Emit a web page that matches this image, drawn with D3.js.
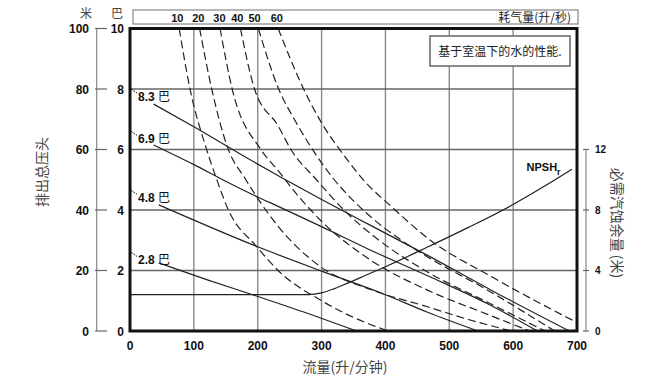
<!DOCTYPE html>
<html><head><meta charset="utf-8">
<script src="https://cdn.jsdelivr.net/npm/d3@7"></script>
<style>body{margin:0;background:#fff}svg{display:block}</style>
</head><body>
<svg id="c" width="667" height="389"></svg>
<script>
// ---- data ----
const flowTicks = [0,100,200,300,400,500,600,700];
const barTicks = [0,2,4,6,8,10];
const meterTicks = [0,20,40,60,80,100];
const npshTicks = [0,4,8,12];
const airLabels = ["10","20","30","40","50","60"];
const airLabelFlow = [74,107,140,168,195,230];
const air10 = [[77,10],[94,8],[120,6],[136,5],[153,4.05],[198,2.8],[232,2.0],[300,1.0],[350,0.45],[404,0]];
const air20 = [[109,10],[128,8],[154,6],[180,5.05],[232,3.46],[298,2.13],[380,1.35],[466,0.8],[530,0.38],[597,0]];
const air30 = [[141,10],[160,8],[205,6],[232,5.3],[260,4.55],[298,3.67],[380,2.3],[466,1.35],[560,0.55],[626,0]];
const air40 = [[173,10],[195,8],[232,6.78],[252,6],[292,5.0],[335,4.0],[390,3.0],[466,1.95],[560,0.95],[650,0]];
const air50 = [[201,10],[232,8.04],[260,6.9],[300,5.56],[320,5.0],[365,4.0],[425,3.0],[466,2.45],[560,1.35],[665,0]];
const air60 = [[232,10],[271,8.04],[300,6.88],[336,5.78],[367,4.96],[410,4.1],[466,3.07],[570,1.75],[700,0.28]];
const pressLabels = ["8.3","6.9","4.8","2.8"];
const pressLabelBar = [8.0,6.6,4.65,2.6];
const p83 = [[37,7.5],[100,6.75],[193,5.6],[235,5.1],[300,4.35],[376,3.5],[466,2.5],[570,1.3],[688,0]];
const p69 = [[37,6.15],[100,5.5],[149,4.96],[199,4.44],[232,4.12],[300,3.45],[376,2.68],[469,1.8],[560,0.9],[638,0]];
const p48 = [[45,4.17],[198,2.8],[300,1.98],[400,1.2],[466,0.62],[545,0]];
const p28 = [[45,2.25],[120,1.7],[199,1.15],[280,0.57],[355,0]];
const npsh = [[0,2.4],[280,2.4],[300,2.52],[320,2.8],[340,3.15],[370,3.7],[400,4.25],[466,5.55],[530,6.85],[595,8.25],[650,9.6],[692,10.7]];

const airCurves = [air10,air20,air30,air40,air50,air60];
const pressCurves = [p83,p69,p48,p28];

// ---- layout ----
const svg = d3.select("#c");
const L=130, R=577, T=28.5, B=331;
const x = d3.scaleLinear().domain([0,700]).range([L,R]);
const y = d3.scaleLinear().domain([0,10]).range([B,T]);
const yM = d3.scaleLinear().domain([0,100]).range([B,T]);
const yN = d3.scaleLinear().domain([0,12]).range([B,y(6)]);
const latin = '"Liberation Sans", Arial, "Noto Sans CJK SC", sans-serif';
const cjk = '"Noto Sans CJK SC", "Liberation Sans", sans-serif';

// grid
const g = svg.append("g");
g.selectAll(".vg").data(flowTicks.filter(d=>d>0&&d<700)).enter().append("line")
  .attr("x1",d=>x(d)).attr("x2",d=>x(d)).attr("y1",T).attr("y2",B)
  .attr("stroke","#8a8a8a").attr("stroke-width",1.4);
g.selectAll(".hg").data(barTicks.filter(d=>d>0&&d<10)).enter().append("line")
  .attr("x1",L).attr("x2",R).attr("y1",d=>y(d)).attr("y2",d=>y(d))
  .attr("stroke","#666").attr("stroke-width",1.3);

const line = d3.line().x(d=>x(d[0])).y(d=>y(d[1])).curve(d3.curveMonotoneX);
svg.append("clipPath").attr("id","pc").append("rect")
  .attr("x",L).attr("y",T).attr("width",R-L).attr("height",B-T);
const cg = svg.append("g").attr("clip-path","url(#pc)");
cg.selectAll(".air").data(airCurves).enter().append("path")
  .attr("d",line).attr("fill","none").attr("stroke","#222").attr("stroke-width",1.2)
  .attr("stroke-dasharray","8,4");
cg.selectAll(".pr").data(pressCurves).enter().append("path")
  .attr("d",line).attr("fill","none").attr("stroke","#222").attr("stroke-width",1.2);
const nline = d3.line().x(d=>x(d[0])).y(d=>yN(d[1])).curve(d3.curveMonotoneX);
cg.append("path").datum(npsh).attr("d",nline).attr("fill","none")
  .attr("stroke","#222").attr("stroke-width",1.2);

// pressure labels + leaders
pressLabels.forEach((t,i)=>{
  const yy = y(pressLabelBar[i]);
  svg.append("line").attr("x1",L+1).attr("y1",yy).attr("x2",L+7).attr("y2",yy+4)
    .attr("stroke","#222").attr("stroke-width",1).attr("stroke-dasharray","2,1");
  const tx = svg.append("text").attr("x",L+8).attr("y",yy+12)
    .attr("font-size",12).attr("fill","#111");
  tx.append("tspan").attr("font-family",latin).attr("font-weight","bold").text(t+" ");
  tx.append("tspan").attr("font-family",cjk).text("巴");
});

// NPSH label
const nt = svg.append("text").attr("x",x(621)).attr("y",yN(10.55)).attr("font-family",latin)
  .attr("font-weight","bold").attr("font-size",11).attr("fill","#111");
nt.append("tspan").text("NPSH");
nt.append("tspan").attr("font-size",9).attr("dy",4).text("r");

// frame
svg.append("rect").attr("x",L).attr("y",T).attr("width",R-L).attr("height",B-T)
  .attr("fill","none").attr("stroke","#111").attr("stroke-width",3);

// legend note
svg.append("rect").attr("x",430).attr("y",36).attr("width",140).attr("height",30)
  .attr("fill","#fff").attr("stroke","#666").attr("stroke-width",1.5);
svg.append("text").attr("x",500).attr("y",56).attr("text-anchor","middle")
  .attr("font-family",cjk).attr("font-size",12).attr("fill","#222").text("基于室温下的水的性能.");

// top air-consumption box
svg.append("rect").attr("x",133).attr("y",10).attr("width",445).attr("height",14)
  .attr("fill","#fff").attr("stroke","#888").attr("stroke-width",1.2);
svg.selectAll(".al").data(airLabels).enter().append("text")
  .attr("x",(d,i)=>x(airLabelFlow[i])).attr("y",22).attr("text-anchor","middle")
  .attr("font-family",latin).attr("font-weight","bold").attr("font-size",11).attr("fill","#111")
  .text(d=>d);
svg.append("text").attr("x",571).attr("y",22).attr("text-anchor","end")
  .attr("font-family",cjk).attr("font-size",12).attr("fill","#222").text("耗气量(升/秒)");

// bottom axis labels
svg.selectAll(".xl").data(flowTicks).enter().append("text")
  .attr("x",d=>x(d)).attr("y",350).attr("text-anchor","middle")
  .attr("font-family",latin).attr("font-weight","bold").attr("font-size",12).attr("fill","#111")
  .text(d=>d);
svg.append("text").attr("x",345).attr("y",372).attr("text-anchor","middle")
  .attr("font-family",cjk).attr("font-size",14).attr("fill","#444").text("流量(升/分钟)");

// left axes
svg.append("line").attr("x1",96.7).attr("x2",96.7).attr("y1",T).attr("y2",B)
  .attr("stroke","#888").attr("stroke-width",1.2);
svg.selectAll(".lt").data(meterTicks).enter().append("line")
  .attr("x1",95).attr("x2",107).attr("y1",d=>yM(d)).attr("y2",d=>yM(d))
  .attr("stroke","#666").attr("stroke-width",1.2);
svg.selectAll(".ml").data(meterTicks).enter().append("text")
  .attr("x",89).attr("y",d=>yM(d)+4.5).attr("text-anchor","end")
  .attr("font-family",latin).attr("font-weight","bold").attr("font-size",12).attr("fill","#111")
  .text(d=>d);
svg.selectAll(".bl").data(barTicks).enter().append("text")
  .attr("x",124).attr("y",d=>y(d)+4.5).attr("text-anchor","end")
  .attr("font-family",latin).attr("font-weight","bold").attr("font-size",12).attr("fill","#111")
  .text(d=>d);
svg.append("text").attr("x",86).attr("y",18).attr("text-anchor","middle")
  .attr("font-family",cjk).attr("font-size",12).attr("fill","#444").text("米");
svg.append("text").attr("x",117).attr("y",18).attr("text-anchor","middle")
  .attr("font-family",cjk).attr("font-size",12).attr("fill","#444").text("巴");
svg.append("text").attr("transform","translate(47,172) rotate(-90)").attr("text-anchor","middle")
  .attr("font-family",cjk).attr("font-size",14).attr("fill","#444").text("排出总压头");

// right axis
svg.append("line").attr("x1",586).attr("x2",586).attr("y1",yN(12)).attr("y2",B)
  .attr("stroke","#888").attr("stroke-width",1.2);
svg.selectAll(".rt").data(npshTicks).enter().append("line")
  .attr("x1",583).attr("x2",589).attr("y1",d=>yN(d)).attr("y2",d=>yN(d))
  .attr("stroke","#666").attr("stroke-width",1.2);
svg.selectAll(".rl").data(npshTicks).enter().append("text")
  .attr("x",595).attr("y",d=>yN(d)+3.5).attr("text-anchor","start")
  .attr("font-family",latin).attr("font-weight","bold").attr("font-size",10).attr("fill","#111")
  .text(d=>d);
svg.append("text").attr("transform","translate(612,223) rotate(90)").attr("text-anchor","middle")
  .attr("font-family",cjk).attr("font-size",14).attr("fill","#444").text("必需汽蚀余量 (米)");
</script>
</body></html>
